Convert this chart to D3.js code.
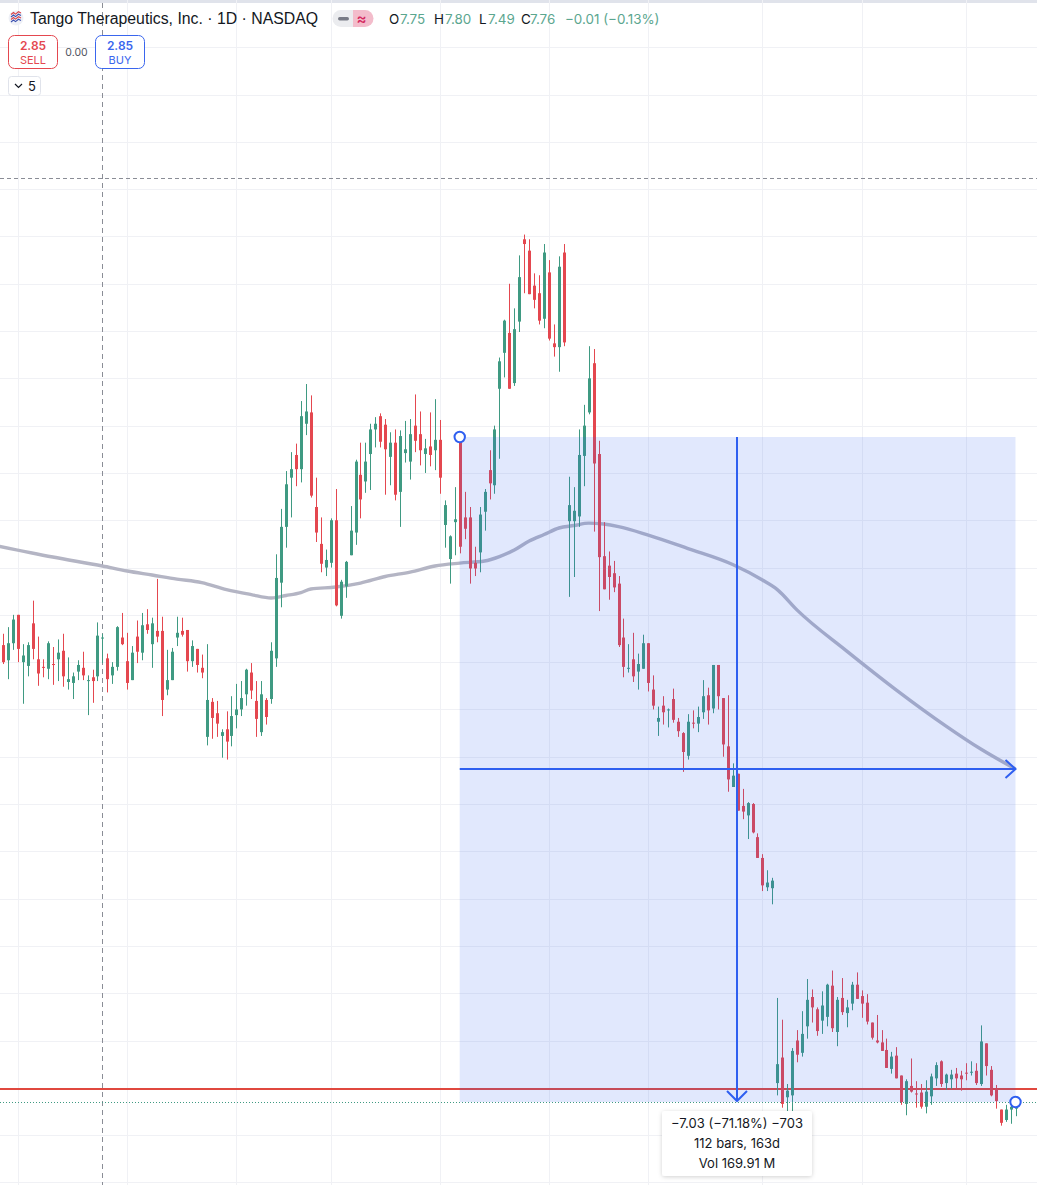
<!DOCTYPE html>
<html><head><meta charset="utf-8">
<style>html,body{margin:0;padding:0;background:#fff;overflow:hidden}svg{display:block}text{font-family:Inter,"Liberation Sans",sans-serif}</style>
<script src="https://cdn.jsdelivr.net/npm/d3@7"></script>
</head><body><svg id="c" width="1037" height="1185"></svg>
<script>
const opens=[7.68,7.52,7.70,8.00,7.50,7.46,7.91,7.53,7.45,7.43,
7.48,7.53,7.62,7.29,7.28,7.40,7.44,7.30,7.34,7.35,
7.75,7.54,7.36,7.45,7.76,7.51,7.31,7.77,7.60,7.90,
7.69,7.83,7.83,7.21,7.31,7.76,7.83,7.84,7.51,7.64,
7.44,6.71,7.08,6.96,6.72,6.79,6.72,6.94,7.00,7.16,
7.39,7.09,6.76,7.10,7.11,7.54,8.34,8.93,9.45,9.69,
9.54,10.02,10.14,9.14,8.75,8.50,8.55,9.00,7.99,8.30,
8.63,8.87,9.48,9.41,9.70,9.96,10.10,10.01,9.67,9.82,
9.30,9.71,9.62,10.00,9.91,9.70,9.78,9.74,9.85,8.95,
8.59,8.98,9.88,9.03,9.03,8.55,8.66,9.09,9.53,9.37,
10.39,10.77,10.98,10.45,11.10,11.97,11.85,11.48,11.40,11.13,
11.62,10.87,10.83,11.83,8.99,8.99,9.04,9.68,10.14,10.66,
9.70,8.62,8.52,8.44,8.33,7.76,7.43,7.53,7.40,7.43,
7.70,7.21,6.87,7.04,6.99,7.11,6.87,6.75,6.51,6.86,
6.85,6.97,7.15,7.01,7.47,7.12,6.61,6.18,6.32,5.98,
5.88,6.00,5.65,5.43,5.12,5.11,3.05,3.32,2.90,2.92,
3.50,3.37,3.65,3.96,3.83,3.71,3.75,4.08,3.59,3.95,
3.79,3.89,4.09,3.97,3.90,3.69,3.50,3.48,3.40,3.20,
3.34,3.13,2.83,3.02,2.94,2.95,2.80,2.91,3.10,3.28,
3.05,3.09,3.15,3.13,3.16,3.16,3.18,3.04,3.47,3.19,
2.99,2.77,2.66,2.77,2.78];
const highs=[7.80,7.87,8.00,8.00,7.69,7.71,8.15,7.77,7.53,7.72,
7.66,7.74,7.80,7.55,7.39,7.52,7.61,7.36,7.42,7.92,
7.80,7.59,7.50,7.88,8.02,7.81,7.67,7.94,8.02,8.06,
7.97,8.38,7.98,7.63,7.65,7.98,7.97,7.84,7.73,7.64,
7.58,7.69,7.12,7.09,6.79,6.98,7.14,7.27,7.30,7.43,
7.49,7.30,7.30,7.12,7.71,8.64,9.12,9.52,9.72,9.81,
10.26,10.44,10.32,9.45,9.03,8.69,9.02,9.33,8.37,8.57,
9.15,9.64,9.82,9.82,10.02,10.09,10.13,10.07,9.93,9.96,
9.95,10.05,10.07,10.33,10.15,9.86,10.14,10.28,10.06,9.21,
8.84,9.35,9.88,9.30,9.14,8.72,9.14,9.33,9.74,10.00,
10.72,11.12,11.50,11.24,11.80,12.02,11.97,11.61,11.59,11.92,
11.75,11.07,11.79,11.92,9.46,9.35,9.96,10.22,10.84,10.81,
9.84,8.98,8.67,8.57,8.41,7.96,7.69,7.81,7.59,7.79,
7.70,7.36,7.03,7.14,7.01,7.22,6.91,6.76,6.95,6.99,
7.03,7.31,7.23,7.47,7.47,7.12,7.15,6.43,6.32,6.16,
6.02,6.01,5.69,5.47,5.30,5.22,3.95,3.72,3.04,3.42,
3.61,3.81,4.15,4.04,3.85,4.02,4.10,4.24,3.96,4.16,
3.93,4.12,4.22,4.03,3.99,3.69,3.77,3.61,3.52,3.38,
3.43,3.13,3.09,3.31,3.07,3.04,3.08,3.15,3.27,3.29,
3.15,3.19,3.21,3.18,3.26,3.28,3.26,3.66,3.47,3.23,
3.03,2.77,2.82,2.85,2.87];
const lows=[7.48,7.32,7.63,7.50,7.06,7.35,7.53,7.25,7.34,7.32,
7.26,7.30,7.24,7.21,7.11,7.31,7.31,6.94,7.07,7.30,
7.49,7.18,7.27,7.41,7.68,7.21,7.31,7.49,7.52,7.80,
7.44,7.71,6.93,7.15,7.31,7.67,7.77,7.40,7.45,7.39,
7.33,6.62,6.69,6.71,6.49,6.47,6.61,6.80,6.93,7.04,
7.11,6.71,6.72,6.84,7.06,7.45,8.08,8.71,9.03,9.36,
9.40,9.90,9.24,8.77,8.45,8.41,8.50,8.09,7.96,8.18,
8.63,8.74,9.02,9.29,9.32,9.77,9.77,9.27,9.37,9.21,
8.93,9.61,9.43,9.72,9.58,9.50,9.57,9.53,9.28,8.71,
8.33,8.63,8.65,8.80,8.33,8.41,8.45,8.89,9.22,9.28,
9.65,10.51,10.39,10.42,10.99,11.40,11.39,11.24,11.07,11.03,
10.90,10.73,10.57,10.84,8.19,8.40,8.93,9.36,10.12,8.88,
8.04,8.27,8.16,8.24,7.66,7.34,7.39,7.29,7.21,7.43,
7.19,7.00,6.72,6.84,6.81,6.86,6.71,6.34,6.47,6.80,
6.76,6.90,6.84,6.96,7.00,6.50,6.13,6.18,5.93,5.84,
5.63,5.69,5.43,5.08,5.08,4.94,2.92,2.79,2.75,2.75,
3.27,3.33,3.52,3.69,3.55,3.57,3.65,3.59,3.44,3.77,
3.64,3.82,3.94,3.74,3.67,3.51,3.47,3.39,3.21,3.15,
3.10,2.82,2.71,2.95,2.79,2.78,2.73,2.82,3.02,3.01,
2.98,2.99,2.99,2.97,3.08,3.13,3.03,3.02,3.13,2.91,
2.78,2.60,2.64,2.62,2.70];
const closes=[7.50,7.70,7.95,7.64,7.57,7.68,7.64,7.38,7.44,7.70,
7.47,7.60,7.35,7.32,7.35,7.47,7.36,7.31,7.30,7.78,
7.76,7.32,7.45,7.87,7.69,7.28,7.60,7.61,7.89,7.84,
7.91,7.77,7.10,7.31,7.61,7.81,7.79,7.51,7.67,7.47,
7.39,7.10,6.91,6.85,6.76,6.66,6.93,7.00,7.12,7.42,
7.20,6.90,7.16,6.92,7.62,8.39,8.93,9.38,9.54,9.54,
10.10,10.15,9.26,8.87,8.54,8.58,9.00,8.10,8.35,8.56,
8.89,9.62,9.22,9.62,9.96,10.02,9.83,9.75,9.82,9.27,
9.89,9.75,9.91,9.84,9.74,9.76,9.69,9.85,9.45,9.16,
8.83,9.01,8.72,8.91,8.49,8.49,9.06,9.30,9.39,9.96,
10.68,11.11,10.39,11.02,11.57,11.92,11.39,11.33,11.11,11.83,
10.92,10.83,11.68,10.88,9.16,9.10,9.69,10.00,10.50,9.60,
8.61,8.27,8.40,8.29,7.68,7.45,7.44,7.35,7.48,7.70,
7.28,7.04,6.91,6.97,7.00,6.89,6.77,6.55,6.87,6.85,
6.92,7.14,6.99,7.47,7.14,6.63,6.26,6.30,5.93,5.92,
6.01,5.70,5.43,5.14,5.17,5.19,3.25,2.83,2.97,3.39,
3.35,3.57,3.93,3.85,3.60,3.87,4.09,3.63,3.93,3.80,
3.85,4.09,3.94,3.89,3.70,3.53,3.48,3.39,3.21,3.33,
3.10,2.85,3.07,2.96,2.93,2.80,2.96,3.12,3.24,3.04,
3.14,3.14,3.10,3.09,3.15,3.17,3.05,3.49,3.23,2.92,
2.86,2.63,2.77,2.80,2.85];

const maBars=[-1,10,20,25,30,35,40,45,50,54,57,60,62,67,72,77,82,87,92,97,100,103,106,109,112,115,118,121,124,130,138,147,153,156,160,170,180,190,197,204];
const maPrices=[8.727,8.611,8.516,8.463,8.421,8.378,8.341,8.267,8.214,8.178,8.204,8.236,8.273,8.294,8.336,8.405,8.452,8.516,8.547,8.569,8.616,8.685,8.780,8.849,8.918,8.944,8.970,8.960,8.933,8.843,8.701,8.532,8.368,8.267,8.050,7.617,7.205,6.824,6.581,6.370];

const gridPrices=[14,13.5,13,12.5,12,11.5,11,10.5,10,9.5,9,8.5,8,7.5,7,6.5,6,5.5,5,4.5,4,3.5,3,2.5,2];
const gridBars=[3,25,47,66,88,110,130,153,173,194];
const startBar=92, endBar=204, hoverBar=20;
const startPrice=9.88, endPrice=2.85, alertPrice=2.987, topLinePrice=12.617;
const headerValues=[["O","7.75"],["H","7.80"],["L","7.49"],["C","7.76"]];
const changeText="−0.01 (−0.13%)";
const tooltipLines=["−7.03 (−71.18%) −703","112 bars, 163d","Vol 169.91 M"];

const W=1037,H=1185;
const GREEN="#3f9a82",RED="#e4474f",BLUE="#2f5ff0";
const x=d3.scaleLinear().domain([0,204]).range([3.2,1015.5]);
const y=d3.scaleLinear().domain([endPrice,startPrice]).range([1102,437]);
const svg=d3.select("#c");
svg.append("rect").attr("width",W).attr("height",H).attr("fill","#fff");
svg.append("rect").attr("width",W).attr("height",3).attr("fill","#e0e3eb");

const gy=svg.append("g").call(d3.axisRight(y).tickValues(gridPrices).tickSize(W).tickFormat(""));
const gx=svg.append("g").call(d3.axisBottom(x).tickValues(gridBars).tickSize(H).tickFormat(""));
[gy,gx].forEach(g=>{g.select(".domain").remove();g.selectAll("line").attr("stroke","#f0f1f5").attr("stroke-width",1);g.attr("shape-rendering","crispEdges");});

const cross=Math.floor(x(hoverBar))+.5;
svg.append("line").attr("x1",cross).attr("x2",cross).attr("y1",3).attr("y2",H).attr("stroke","#8a8d96").attr("stroke-dasharray","5 4");
svg.append("line").attr("x1",0).attr("x2",W).attr("y1",Math.floor(y(topLinePrice))+.5).attr("y2",Math.floor(y(topLinePrice))+.5).attr("stroke","#8a8d96").attr("stroke-dasharray","4 3");
svg.append("line").attr("x1",0).attr("x2",W).attr("y1",Math.round(y(alertPrice))).attr("y2",Math.round(y(alertPrice))).attr("stroke","#e0483f").attr("stroke-width",2);
svg.append("line").attr("x1",0).attr("x2",W).attr("y1",y(endPrice)+.5).attr("y2",y(endPrice)+.5).attr("stroke",GREEN).attr("stroke-dasharray","1 2");

const ma=maBars.map((b,i)=>[b,maPrices[i]]);
svg.append("path").attr("d",d3.line().x(d=>x(d[0])).y(d=>y(d[1])).curve(d3.curveMonotoneX)(ma))
 .attr("fill","none").attr("stroke","#b4b5c4").attr("stroke-width",3.4);

const cs=svg.append("g").selectAll("g").data(opens.map((o,i)=>({i,o,h:highs[i],l:lows[i],c:closes[i]}))).join("g")
 .attr("fill",d=>d.c>=d.o?GREEN:RED);
cs.append("rect").attr("x",d=>Math.round(x(d.i))).attr("width",1)
 .attr("y",d=>y(d.h)).attr("height",d=>y(d.l)-y(d.h));
cs.append("rect").attr("x",d=>Math.round(x(d.i))-1).attr("width",3)
 .attr("y",d=>y(Math.max(d.o,d.c))).attr("height",d=>Math.max(1,y(Math.min(d.o,d.c))-y(Math.max(d.o,d.c))));

const x0=x(startBar),x1=x(endBar),y0=y(startPrice),y1=y(endPrice),xm=Math.floor((x0+x1)/2),ym=Math.floor((y0+y1)/2);
svg.append("rect").attr("x",x0).attr("y",y0).attr("width",x1-x0).attr("height",y1-y0).attr("fill","rgba(47,95,240,0.145)");
const ml=svg.append("g").attr("stroke",BLUE).attr("stroke-width",2).attr("fill","none");
ml.append("line").attr("x1",xm).attr("x2",xm).attr("y1",y0).attr("y2",y1-1);
ml.append("line").attr("x1",x0).attr("x2",x1).attr("y1",ym).attr("y2",ym);
ml.append("path").attr("d",d3.line()([[xm-10,y1-11],[xm,y1-1],[xm+10,y1-11]]));
ml.append("path").attr("d",d3.line()([[x1-10,ym-9],[x1,ym],[x1-10,ym+9]]));
[[x0,y0],[x1,y1]].forEach(p=>svg.append("circle").attr("cx",p[0]).attr("cy",p[1]).attr("r",5.2).attr("fill","#fff").attr("stroke",BLUE).attr("stroke-width",2));

const defs=svg.append("defs");
const fl=defs.append("filter").attr("id","sh").attr("x","-10%").attr("y","-20%").attr("width","120%").attr("height","150%");
fl.append("feDropShadow").attr("dx",0).attr("dy",1).attr("stdDeviation",2).attr("flood-color","#000").attr("flood-opacity",.18);
const tt=svg.append("g");
tt.append("rect").attr("x",662).attr("y",1111).attr("width",150).attr("height",65).attr("rx",3).attr("fill","#fff").attr("filter","url(#sh)");
tooltipLines.forEach((t,i)=>tt.append("text").attr("x",xm).attr("y",1128+i*20).attr("text-anchor","middle").attr("font-size",13).attr("fill","#131722").text(t));

const hd=svg.append("g");
hd.append("circle").attr("cx",16).attr("cy",18).attr("r",7.5).attr("fill","#eef0f6");
[["#d8434a",14.5],["#3a4fb0",17],["#d8434a",19.5],["#3a4fb0",22]].forEach(a=>hd.append("path").attr("d",`M11 ${a[1]} l2.5 -2 l2 1.6 l3 -2.4 l2.5 1.2`).attr("stroke",a[0]).attr("stroke-width",1.1).attr("fill","none"));
hd.append("text").attr("x",30).attr("y",24).attr("font-size",16).attr("fill","#131722").style("font-family","'Liberation Sans',sans-serif").attr("textLength",288).attr("lengthAdjust","spacingAndGlyphs").text("Tango Therapeutics, Inc. · 1D · NASDAQ");
hd.append("path").attr("d","M341 10 H353 V27 H341 a8.5 8.5 0 0 1 0 -17Z").attr("fill","#ebecef");
hd.append("path").attr("d","M353 10 H365 a8.5 8.5 0 0 1 0 17 H353Z").attr("fill","#f3bccb");
hd.append("rect").attr("x",338).attr("y",17).attr("width",11).attr("height",3.5).attr("rx",1.7).attr("fill","#787b86");
hd.append("text").attr("x",361.5).attr("y",23.5).attr("text-anchor","middle").attr("font-size",15).attr("font-weight",600).attr("fill","#d5295f").text("≈");
const ohlcX=[[389,400],[434,445],[479,488],[521,530]];
headerValues.forEach((v,i)=>{
 hd.append("text").attr("x",ohlcX[i][0]).attr("y",24).attr("font-size",13.4).attr("fill","#131722").text(v[0]);
 hd.append("text").attr("x",ohlcX[i][1]).attr("y",24).attr("font-size",13.4).attr("fill","#5ba68f").text(v[1]);
});
hd.append("text").attr("x",565).attr("y",24).attr("font-size",13.4).attr("fill","#5ba68f").text(changeText);

const box=(bx,c,a,b)=>{
 hd.append("rect").attr("x",bx+.5).attr("y",35.5).attr("width",49).attr("height",33).attr("rx",6).attr("fill","#fff").attr("stroke",c);
 hd.append("text").attr("x",bx+25).attr("y",50).attr("text-anchor","middle").attr("font-size",12).attr("font-weight",600).attr("fill",c).text(a);
 hd.append("text").attr("x",bx+25).attr("y",64).attr("text-anchor","middle").attr("font-size",11).attr("fill",c).text(b);
};
box(8,"#e4474f","2.85","SELL");
box(95,"#3a66ee","2.85","BUY");
hd.append("text").attr("x",76.5).attr("y",56).attr("text-anchor","middle").attr("font-size",10.5).attr("fill","#50535e").text("0.00");
hd.append("rect").attr("x",8.5).attr("y",76.5).attr("width",32).attr("height",19).attr("rx",3).attr("fill","#fff").attr("stroke","#e0e3eb");
hd.append("path").attr("d","M15 84 l3.5 3.5 l3.5 -3.5").attr("fill","none").attr("stroke","#131722").attr("stroke-width",1.2);
hd.append("text").attr("x",28).attr("y",91).attr("font-size",13).attr("fill","#131722").text("5");
</script></body></html>
